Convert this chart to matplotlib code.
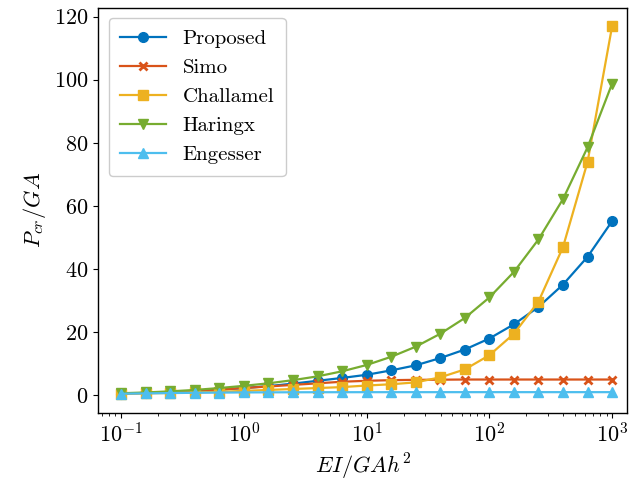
import numpy as np
import matplotlib
matplotlib.use("Agg")
import matplotlib.pyplot as plt

plt.rcParams['font.family'] = 'serif'
plt.rcParams['font.serif'] = ['cmr10', 'DejaVu Serif']
plt.rcParams['mathtext.fontset'] = 'cm'
plt.rcParams['axes.formatter.use_mathtext'] = True

x = [0.1, 0.1585, 0.2512, 0.3981, 0.631, 1.0, 1.585, 2.512, 3.981, 6.31,
     10.0, 15.85, 25.12, 39.81, 63.1, 100.0, 158.5, 251.2, 398.1, 631.0, 1000.0]

proposed = [0.55, 0.75, 1.0, 1.35, 1.8, 2.3, 2.9, 3.7, 4.6, 5.5,
            6.5, 7.9, 9.5, 11.8, 14.5, 18.0, 22.5, 28.0, 35.1, 43.9, 55.2]
simo = [0.5, 0.75, 1.0, 1.4, 1.8, 2.3, 2.8, 3.3, 3.8, 4.3,
        4.6, 4.8, 4.9, 4.95, 5.0, 5.0, 5.0, 5.0, 5.0, 5.0, 5.0]
challamel = [0.5, 0.62, 0.75, 0.9, 1.1, 1.4, 1.7, 2.0, 2.3, 2.6,
             3.1, 3.5, 4.1, 5.7, 8.2, 12.7, 19.5, 29.7, 47.0, 74.0, 117.0]
haringx = [0.65, 0.9, 1.25, 1.7, 2.3, 3.0, 3.8, 4.8, 6.0, 7.6,
           9.6, 12.2, 15.4, 19.5, 24.5, 31.0, 39.1, 49.4, 62.2, 78.6, 98.8]
engesser = [0.5, 0.61, 0.71, 0.8, 0.86, 0.91, 0.94, 0.96, 0.975, 0.985,
            0.99, 0.994, 0.996, 0.997, 0.998, 0.999, 0.999, 1.0, 1.0, 1.0, 1.0]

labels = ['Proposed', 'Simo', 'Challamel', 'Haringx', 'Engesser']
colors = ['#0072BD', '#D95319', '#EDB120', '#77AC30', '#4DBEEE']
markers = ['o', 'x', 's', 'v', '^']
series = [proposed, simo, challamel, haringx, engesser]

fig = plt.figure(figsize=(6.29, 4.87), dpi=100)
ax = fig.add_axes([0.156, 0.152, 0.841, 0.832])

for y, lab, c, m in zip(series, labels, colors, markers):
    ms = 7 if m != 'x' else 6
    mew = 1.0 if m != 'x' else 2.0
    ax.plot(x, y, color=c, marker=m, markersize=ms, markeredgewidth=mew,
            linewidth=1.6, label=lab)

ax.set_xscale('log')
ax.set_xlim(10**-1.187, 10**3.122)
ax.set_ylim(-5.6, 122.8)
ax.set_yticks([0, 20, 40, 60, 80, 100, 120])
ax.set_xlabel(r'$EI/GAh^2$', fontsize=16)
ax.set_ylabel(r'$P_{cr}/GA$', fontsize=16)
ax.tick_params(axis='both', labelsize=16, direction='out')
for sp in ax.spines.values():
    sp.set_linewidth(1.0)

ax.legend(loc='upper left', fontsize=15, frameon=True, fancybox=True,
          edgecolor='#cccccc', framealpha=1.0, handlelength=2.2,
          borderpad=0.55, labelspacing=0.5, handletextpad=0.8)

fig.savefig('out.png', dpi=100)
